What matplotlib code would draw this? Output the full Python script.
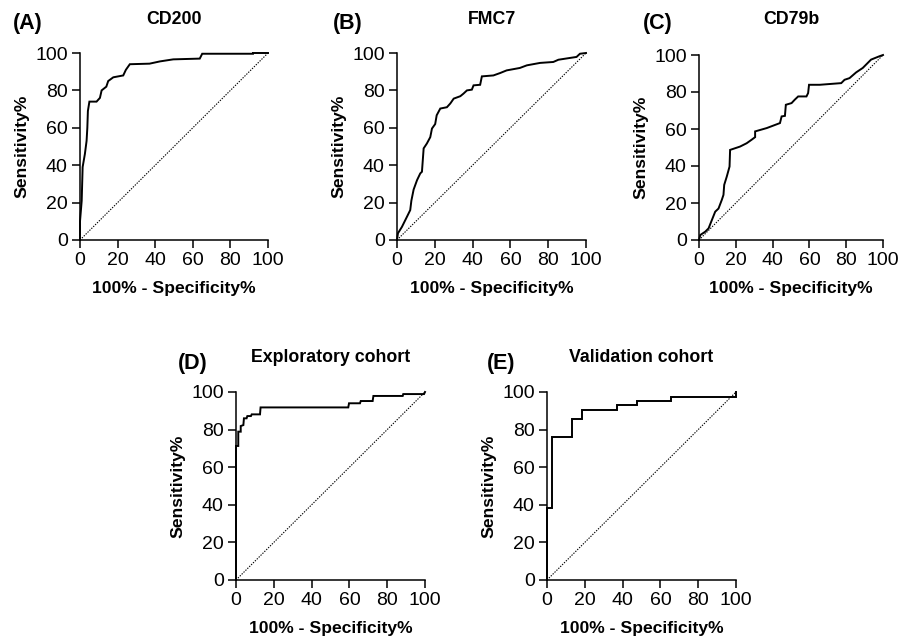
import matplotlib
matplotlib.use("Agg")
import matplotlib.pyplot as plt

plt.rcParams["font.family"] = ["Liberation Sans", "DejaVu Sans"]

# ROC curves: x = 100% - specificity%, y = sensitivity%
cd200_fpr = [0, 0, 0.9, 1.4, 2.6, 3.5, 3.9, 4.2, 5.0, 8.8, 10.6, 11.5, 14.0, 15.0, 17.7,
             23.0, 24.4, 26.5, 37.0, 42.5, 49.6, 63.7, 65.0, 92.0, 92.0, 100]
cd200_tpr = [0, 10, 21, 39, 46, 53, 60, 69, 74, 74, 76, 80, 82, 85, 87,
             88, 91, 94, 94.3, 95.5, 96.6, 97, 99.6, 99.6, 100, 100]

fmc7_fpr = [0, 0.5, 2.6, 5.3, 7.0, 7.6, 8.8, 10.6, 12.3, 13.2, 14.1, 15.8, 17.6, 18.5, 20.2,
            21.0, 22.9, 26.4, 28.2, 30.0, 33.5, 35.2, 37.0, 39.6, 40.5, 44.0, 44.9, 51.0,
            54.6, 58.0, 65.0, 68.7, 75.7, 82.7, 85.4, 95.0, 96.8, 100]
fmc7_tpr = [0, 3.6, 7, 12.5, 16, 21, 27, 32, 35.6, 36.5, 49, 51.6, 55, 59.6, 62,
            66.7, 70.3, 71, 73, 75.6, 76.9, 78.3, 80, 80.4, 82.7, 83, 87.5, 88,
            89.3, 90.7, 92, 93.4, 94.7, 95.2, 96.4, 97.9, 99.6, 100]

cd79b_fpr = [0, 0.7, 3.4, 5.2, 7.0, 8.8, 10.6, 12.4, 13.3, 13.7, 15.1, 16.6, 16.9, 22.3,
             25.9, 28.6, 30.5, 30.5, 36.8, 44.0, 44.9, 46.7, 47.2, 50.3, 52.0, 53.9, 58.4,
             59.3, 59.8, 65.6, 77.3, 79.1, 81.8, 85.4, 89.0, 91.7, 93.5, 98.0, 100]
cd79b_tpr = [0, 2.7, 4.5, 6.3, 10.8, 15.3, 17, 21.7, 24.4, 29.8, 34.3, 39.7, 48.7, 50.5,
             52.3, 54.2, 55.6, 58.7, 60.5, 63.2, 66.8, 67.1, 73.1, 74, 75.8, 77.6, 77.6,
             79.4, 83.9, 83.9, 84.8, 86.6, 87.5, 90.6, 93, 95.7, 97.5, 99.3, 100]

explor_fpr = [0, 0, 1.2, 1.2, 2.5, 2.5, 3.9, 4.2, 5.6, 6.0, 7.9, 8.3, 12.7, 13.0, 59.4,
              59.8, 65.6, 66.0, 72.3, 72.7, 88.2, 88.5, 99.5, 100]
explor_tpr = [0, 71.3, 71.3, 78.9, 78.9, 81.9, 82.4, 86, 86, 87.2, 87.2, 88.1, 88.1, 91.8, 91.8,
              94, 94, 95.2, 95.2, 97.9, 97.9, 98.9, 98.9, 100]

valid_fpr = [0, 0, 2.6, 2.6, 13.2, 13.2, 18.4, 18.4, 36.8, 36.8, 47.4, 47.4, 65.8, 65.8, 100, 100]
valid_tpr = [0, 38.1, 38.1, 76.2, 76.2, 85.7, 85.7, 90.5, 90.5, 92.9, 92.9, 95.2, 95.2, 97.6, 97.6, 100]

panels = [
    ("(A)", "CD200", cd200_fpr, cd200_tpr),
    ("(B)", "FMC7", fmc7_fpr, fmc7_tpr),
    ("(C)", "CD79b", cd79b_fpr, cd79b_tpr),
    ("(D)", "Exploratory cohort", explor_fpr, explor_tpr),
    ("(E)", "Validation cohort", valid_fpr, valid_tpr),
]

W, H = 898, 640
# axes boxes in pixels: left, top, right, bottom
boxes = [(80, 53, 268, 240), (397, 53, 586, 240), (699, 55, 883, 240),
         (236, 392, 425, 580), (547, 392, 736, 580)]
letter_pos = [(13, 23), (333, 23), (643, 23), (178, 363), (487, 363)]
title_y = [19, 19, 19, 357, 357]

fig = plt.figure(figsize=(W / 100, H / 100), dpi=100)

for i, (letter, title, fpr, tpr) in enumerate(panels):
    l, t, r, b = boxes[i]
    ax = fig.add_axes([l / W, 1 - b / H, (r - l) / W, (b - t) / H])
    ax.plot([0, 100], [0, 100], color="black", lw=0.8, ls=(0, (1.2, 1.2)), clip_on=False)
    ax.plot(fpr, tpr, color="black", lw=1.4, clip_on=False, solid_joinstyle="miter")
    ax.set_xlim(0, 100)
    ax.set_ylim(0, 100)
    ax.set_xticks(range(0, 101, 20))
    ax.set_yticks(range(0, 101, 20))
    for s in ("top", "right"):
        ax.spines[s].set_visible(False)
    for s in ("left", "bottom"):
        ax.spines[s].set_linewidth(1.1)
    ax.tick_params(direction="out", length=5.8, width=1.1, labelsize=14, pad=3)

    # axis labels, centred a fixed pixel distance from the spines
    ax.set_xlabel("100% - Specificity%", fontsize=12.6, fontweight="bold")
    ax.set_ylabel("Sensitivity%", fontsize=12.6, fontweight="bold")
    ax.xaxis.label.set_verticalalignment("center")
    ax.yaxis.label.set_verticalalignment("center")
    ax.xaxis.set_label_coords(0.5, -48 / (b - t))
    ax.yaxis.set_label_coords(-58 / (r - l), 0.5)

    fig.text(letter_pos[i][0] / W, 1 - letter_pos[i][1] / H, letter,
             fontsize=15.5, fontweight="bold", ha="left", va="center")
    fig.text((l + r) / 2 / W, 1 - title_y[i] / H, title,
             fontsize=12.8, fontweight="bold", ha="center", va="center")

fig.savefig("out.png", dpi=100)
